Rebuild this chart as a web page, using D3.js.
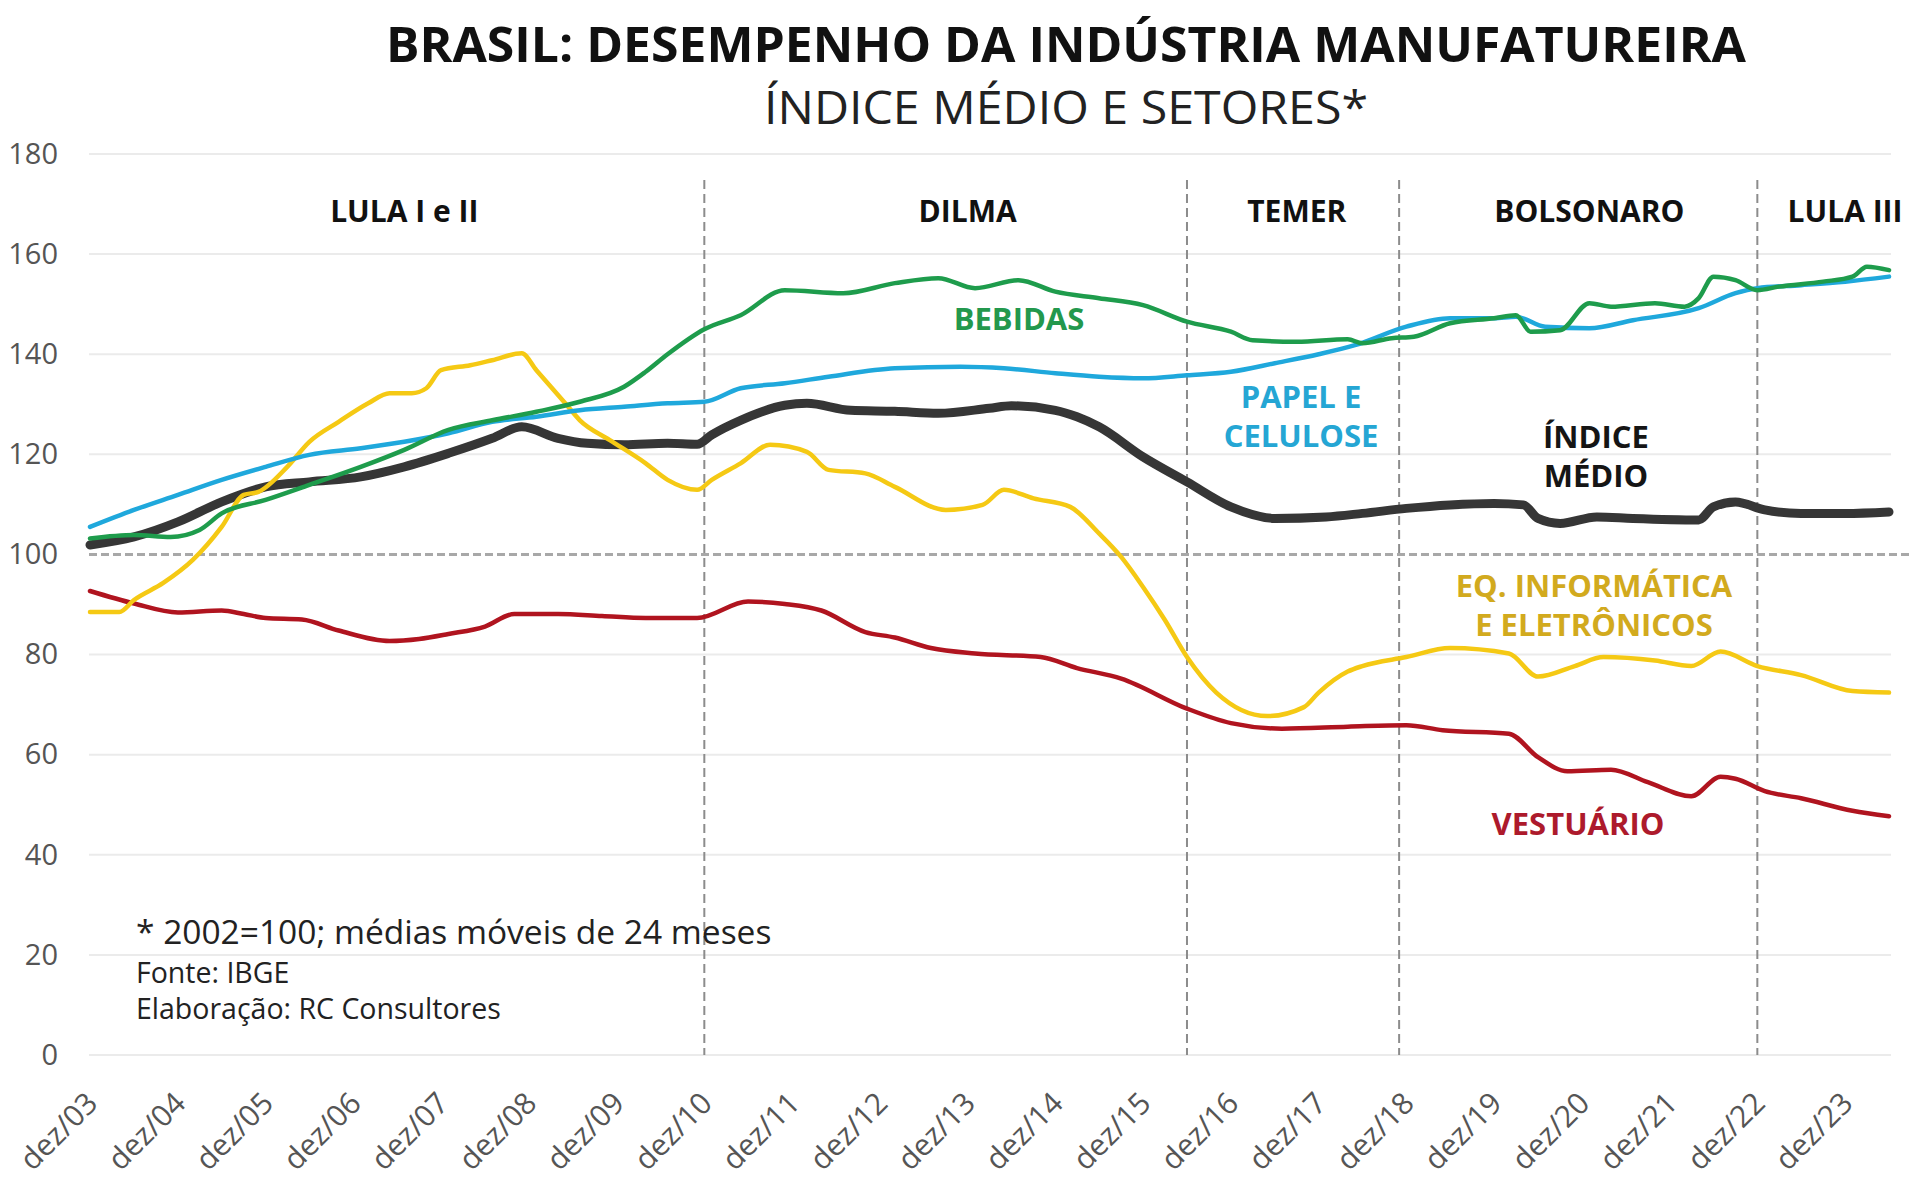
<!DOCTYPE html>
<html><head><meta charset="utf-8">
<script src="https://cdn.jsdelivr.net/npm/d3@7"></script>
<style>body{margin:0;background:#fff}svg{display:block}</style>
</head><body>
<svg id="chart" width="1932" height="1202"></svg>
<script>
// ---------------- DATA ----------------
const yTicks = [0, 20, 40, 60, 80, 100, 120, 140, 160, 180];
const xTickDates = ["2003-12","2004-12","2005-12","2006-12","2007-12","2008-12","2009-12","2010-12","2011-12","2012-12","2013-12","2014-12","2015-12","2016-12","2017-12","2018-12","2019-12","2020-12","2021-12","2022-12","2023-12"];
const xTickLabels = ["dez/03","dez/04","dez/05","dez/06","dez/07","dez/08","dez/09","dez/10","dez/11","dez/12","dez/13","dez/14","dez/15","dez/16","dez/17","dez/18","dez/19","dez/20","dez/21","dez/22","dez/23"];
const dateDomain = ["2003-12", "2024-06"];
const periodBreaks = ["2010-12", "2016-06", "2018-11", "2022-12"];
const periodNames = ["LULA I e II", "DILMA", "TEMER", "BOLSONARO", "LULA III"];

const indiceMedio = [["2003-12",101.9],["2004-06",103.5],["2004-12",106.5],["2005-06",110.5],["2005-12",113.5],["2006-06",114.5],["2007-01",115.5],["2007-07",117.5],["2008-01",120.2],["2008-07",123.2],["2008-11",125.5],["2009-04",123.2],["2009-08",122.2],["2010-01",121.9],["2010-07",122.2],["2010-11",122.0],["2011-01",123.9],["2011-05",126.8],["2011-11",129.8],["2012-02",130.2],["2012-08",128.8],["2013-02",128.6],["2013-08",128.2],["2014-03",129.2],["2014-06",129.7],["2014-12",128.8],["2015-03",127.5],["2015-06",125.5],["2015-12",119.5],["2016-06",114.5],["2016-12",109.5],["2017-06",107.2],["2018-01",107.5],["2018-06",108.2],["2018-12",109.2],["2019-06",109.9],["2019-12",110.2],["2020-04",109.9],["2020-06",107.2],["2020-09",106.2],["2021-02",107.5],["2021-07",107.2],["2022-04",106.9],["2022-06",109.5],["2022-09",110.5],["2023-01",108.9],["2023-06",108.2],["2023-12",108.2],["2024-06",108.5]];

const bebidas = [["2003-12",103.2],["2004-06",103.9],["2004-11",103.5],["2005-03",104.9],["2005-06",108.2],["2005-12",110.9],["2006-06",113.9],["2007-01",117.5],["2007-07",120.9],["2008-01",124.9],["2008-07",126.8],["2009-01",128.5],["2009-07",130.5],["2010-01",133.5],["2010-04",136.5],["2010-07",140.0],["2010-12",145.0],["2011-05",147.8],["2011-11",152.8],["2012-07",152.2],["2013-02",154.2],["2013-08",155.2],["2014-01",153.2],["2014-07",154.8],["2014-12",152.5],["2015-06",151.2],["2015-12",149.8],["2016-06",146.5],["2016-12",144.5],["2017-03",142.8],["2017-09",142.5],["2018-04",143.0],["2018-06",142.2],["2018-10",143.2],["2019-01",143.5],["2019-06",146.2],["2019-12",147.2],["2020-03",147.8],["2020-05",144.5],["2020-09",144.8],["2021-01",150.2],["2021-04",149.5],["2021-10",150.2],["2022-02",149.5],["2022-04",151.2],["2022-06",155.5],["2022-09",154.8],["2022-12",152.8],["2023-03",153.5],["2023-09",154.5],["2024-01",155.5],["2024-03",157.5],["2024-06",156.8]];

const papelCelulose = [["2003-12",105.5],["2004-06",108.9],["2004-12",111.9],["2005-06",114.9],["2005-12",117.5],["2006-06",119.9],["2007-01",121.2],["2007-07",122.5],["2008-01",124.2],["2008-07",126.5],["2009-01",127.5],["2009-07",128.8],["2010-01",129.5],["2010-07",130.2],["2010-12",130.5],["2011-05",133.2],["2011-11",134.2],["2012-05",135.5],["2013-02",137.2],["2013-11",137.5],["2014-05",137.2],["2014-12",136.2],["2015-06",135.5],["2015-12",135.2],["2016-06",135.8],["2016-12",136.5],["2017-06",138.2],["2017-12",140.0],["2018-05",141.8],["2018-12",145.5],["2019-06",147.2],["2019-12",147.2],["2020-03",147.5],["2020-07",145.5],["2021-01",145.2],["2021-07",146.8],["2022-04",149.2],["2022-09",152.2],["2022-12",153.2],["2023-06",153.8],["2023-12",154.5],["2024-06",155.5]];

const eqInformatica = [["2003-12",88.5],["2004-04",88.5],["2004-06",90.9],["2004-10",94.3],["2005-02",98.9],["2005-06",105.5],["2005-09",111.9],["2005-11",112.5],["2006-03",117.5],["2006-06",122.5],["2006-10",126.5],["2007-02",130.2],["2007-05",132.2],["2007-08",132.2],["2007-10",133.2],["2007-12",136.8],["2008-04",137.8],["2008-07",138.8],["2008-11",140.2],["2009-01",136.8],["2009-05",130.2],["2009-07",126.8],["2009-11",122.9],["2010-04",118.2],["2010-07",114.9],["2010-11",112.9],["2011-01",114.9],["2011-05",118.2],["2011-09",121.9],["2012-02",120.5],["2012-05",116.9],["2012-10",116.2],["2013-02",113.5],["2013-09",108.9],["2014-02",109.9],["2014-05",112.9],["2014-09",111.2],["2015-02",109.5],["2015-06",104.2],["2015-09",99.5],["2015-12",93.5],["2016-03",86.9],["2016-06",79.5],["2016-10",72.4],["2017-05",67.7],["2017-10",69.5],["2017-12",72.4],["2018-04",76.6],["2018-06",77.7],["2018-12",79.5],["2019-06",81.3],["2020-02",80.2],["2020-06",75.6],["2020-11",77.7],["2021-03",79.5],["2021-10",78.8],["2022-03",77.7],["2022-07",80.6],["2022-12",77.7],["2023-06",75.9],["2024-01",72.7],["2024-06",72.4]];

const vestuario = [["2003-12",92.7],["2004-06",90.2],["2004-12",88.4],["2005-06",88.8],["2005-09",88.1],["2005-12",87.3],["2006-05",87.0],["2006-10",84.8],["2007-05",82.7],["2007-09",83.1],["2008-01",84.1],["2008-06",85.6],["2008-10",88.1],["2009-04",88.1],["2009-10",87.7],["2010-04",87.3],["2010-11",87.3],["2011-06",90.6],["2011-11",90.1],["2012-04",88.8],["2012-10",84.5],["2013-02",83.4],["2013-07",81.3],["2014-01",80.2],["2014-10",79.5],["2015-03",77.3],["2015-09",75.2],["2016-06",69.2],["2016-12",66.3],["2017-07",65.2],["2018-04",65.6],["2018-12",65.9],["2019-05",64.9],["2020-02",64.2],["2020-06",59.5],["2020-10",56.7],["2021-04",57.0],["2021-09",54.5],["2022-03",51.7],["2022-07",55.6],["2022-09",55.2],["2023-01",52.7],["2023-06",51.3],["2024-01",48.8],["2024-06",47.7]];

// ---------------- CHART ----------------
const svg = d3.select("#chart");
const FONT = "'Open Sans', 'Noto Sans', sans-serif";
const parse = d3.timeParse("%Y-%m");

const x = d3.scaleTime().domain(dateDomain.map(parse)).range([90, 1889]);
const y = d3.scaleLinear().domain([0, 180]).range([1055, 154]);

// title
svg.append("text").attr("x", 1066).attr("y", 62).attr("text-anchor", "middle")
  .attr("font-family", FONT).attr("font-weight", 700).attr("font-size", 48)
  .attr("fill", "#111").attr("textLength", 1360).attr("lengthAdjust", "spacingAndGlyphs")
  .text("BRASIL: DESEMPENHO DA INDÚSTRIA MANUFATUREIRA");
svg.append("text").attr("x", 1066).attr("y", 124).attr("text-anchor", "middle")
  .attr("font-family", FONT).attr("font-weight", 400).attr("font-size", 45)
  .attr("fill", "#222").attr("textLength", 604).attr("lengthAdjust", "spacingAndGlyphs")
  .text("ÍNDICE MÉDIO E SETORES*");

// gridlines
const xl = x.range()[0] - 1, xr = x.range()[1] + 2;
svg.append("g").selectAll("line").data(yTicks.filter(d => d !== 100)).join("line")
  .attr("x1", xl).attr("x2", xr).attr("y1", d => y(d)).attr("y2", d => y(d))
  .attr("stroke", "#ebebeb").attr("stroke-width", 2);
svg.append("line").attr("x1", xl).attr("x2", 1913).attr("y1", y(100)).attr("y2", y(100))
  .attr("stroke", "#a8a8a8").attr("stroke-width", 3).attr("stroke-dasharray", "8,4");

// y axis labels
const yAxis = d3.axisLeft(y).tickValues(yTicks).tickSize(0).tickPadding(0);
const yg = svg.append("g").attr("transform", "translate(58,0)").call(yAxis);
yg.select(".domain").remove();
yg.selectAll("text").attr("font-family", FONT).attr("font-size", 29).attr("fill", "#555").attr("font-weight", 400);

// x axis labels
const xAxis = d3.axisBottom(x).tickValues(xTickDates.map(parse))
  .tickFormat((d, i) => xTickLabels[i]).tickSize(0).tickPadding(0);
const xg = svg.append("g").attr("transform", "translate(0,1105)").call(xAxis);
xg.select(".domain").remove();
xg.selectAll("text").attr("font-family", FONT).attr("font-size", 30).attr("fill", "#555")
  .attr("text-anchor", "end").attr("dy", 0).attr("y", 0)
  .attr("transform", "translate(9,0) rotate(-45)");

// period dividers
svg.append("g").selectAll("line").data(periodBreaks).join("line")
  .attr("x1", d => x(parse(d))).attr("x2", d => x(parse(d)))
  .attr("y1", 180).attr("y2", y(0))
  .attr("stroke", "#8c8c8c").attr("stroke-width", 2).attr("stroke-dasharray", "9,5");

// period labels (anchored at data dates)
const periodLabelDates = ["2007-07", "2013-12", "2017-09", "2021-01", "2023-12"];
svg.append("g").selectAll("text").data(periodNames).join("text")
  .attr("x", (d, i) => x(parse(periodLabelDates[i]))).attr("y", 222)
  .attr("text-anchor", "middle").attr("font-family", FONT).attr("font-weight", 700)
  .attr("font-size", 30).attr("fill", "#111").text(d => d);

// series
const line = d3.line().x(d => x(parse(d[0]))).y(d => y(d[1])).curve(d3.curveMonotoneX);
const series = [
  { data: indiceMedio, color: "#363636", width: 9 },
  { data: vestuario, color: "#b0141f", width: 4.5 },
  { data: eqInformatica, color: "#f5c914", width: 4.5 },
  { data: papelCelulose, color: "#1fa8dc", width: 4.5 },
  { data: bebidas, color: "#1e9c4c", width: 4.5 }
];
svg.append("g").selectAll("path").data(series).join("path")
  .attr("d", s => line(s.data)).attr("fill", "none")
  .attr("stroke", s => s.color).attr("stroke-width", s => s.width)
  .attr("stroke-linejoin", "round").attr("stroke-linecap", "round");

// series labels
const seriesLabels = [
  { lines: ["BEBIDAS"], x: 1019, y: 330, color: "#23984d" },
  { lines: ["PAPEL E", "CELULOSE"], x: 1301, y: 408, color: "#25a6d4" },
  { lines: ["ÍNDICE", "MÉDIO"], x: 1596, y: 448, color: "#151515" },
  { lines: ["EQ. INFORMÁTICA", "E ELETRÔNICOS"], x: 1594, y: 597, color: "#d2aa1e" },
  { lines: ["VESTUÁRIO"], x: 1578, y: 835, color: "#ad1a2c" }
];
seriesLabels.forEach(l => {
  const t = svg.append("text").attr("text-anchor", "middle").attr("font-family", FONT)
    .attr("font-weight", 700).attr("font-size", 31).attr("fill", l.color);
  l.lines.forEach((s, i) => t.append("tspan").attr("x", l.x).attr("y", l.y + i * 39).text(s));
});

// footnote
const notes = [
  { text: "* 2002=100; médias móveis de 24 meses", y: 944, size: 33.5 },
  { text: "Fonte: IBGE", y: 983, size: 28.5 },
  { text: "Elaboração: RC Consultores", y: 1019, size: 28.5 }
];
svg.append("g").selectAll("text").data(notes).join("text")
  .attr("x", 136).attr("y", d => d.y).attr("font-family", FONT)
  .attr("font-size", d => d.size).attr("fill", "#222").text(d => d.text);
</script>
</body></html>
